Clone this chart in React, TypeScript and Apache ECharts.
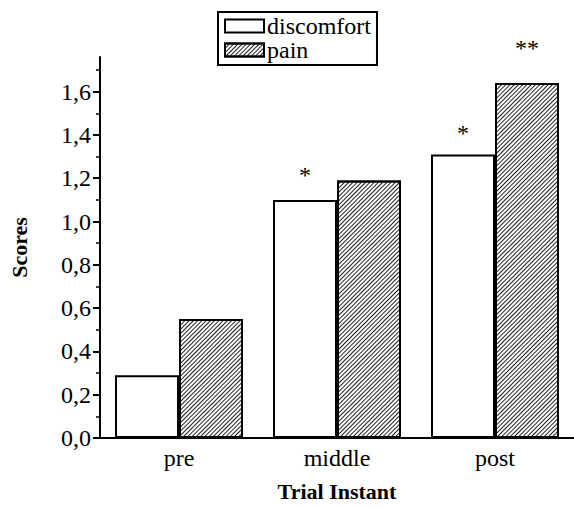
import React, { useEffect, useRef } from "react";
import * as echarts from "echarts";

const categories = ["pre", "middle", "post"];
const discomfortValues = [0.29, 1.1, 1.31];
const painValues = [0.55, 1.19, 1.64];
const discomfortMarks = ["", "*", "*"];
const painMarks = ["", "", "**"];
const markDistances = [[0, 13, 9], [0, 0, 23]];
const yTicks = [0, 0.2, 0.4, 0.6, 0.8, 1.0, 1.2, 1.4, 1.6];

const FONT = "Times New Roman";

export default function App() {
  const ref = useRef<HTMLDivElement>(null);
  useEffect(() => {
    document.body.style.margin = "0";
    if (!ref.current) return;
    const chart = echarts.init(ref.current, null, { renderer: "svg" });
    const mkData = (vals: number[], marks: string[], dist: number[]) =>
      vals.map((v, i) => ({
        value: v,
        label: {
          show: marks[i] !== "",
          position: "top",
          distance: dist[i],
          formatter: marks[i],
          fontSize: 24,
          fontFamily: FONT,
          color: "#000",
        },
      }));
    chart.setOption({
      animation: false,
      backgroundColor: "#fff",
      textStyle: { fontFamily: FONT, color: "#000" },
      grid: { left: 97, top: 57, width: 480, height: 386 },
      legend: {
        orient: "vertical",
        left: 218,
        top: 12,
        borderColor: "#000",
        borderWidth: 2,
        backgroundColor: "#fff",
        padding: [2, 6, 3, 6],
        itemGap: 0,
        itemWidth: 39,
        itemHeight: 13,
        icon: "rect",
        textStyle: { fontSize: 24, lineHeight: 22, fontFamily: FONT, color: "#000", padding: [0, 0, 0, -2] },
        data: ["discomfort", "pain"],
      },
      xAxis: [
        {
          type: "category",
          data: categories,
          axisLine: { lineStyle: { color: "#000", width: 2 } },
          axisTick: { alignWithLabel: true, length: 6, lineStyle: { color: "#000", width: 2 } },
          axisLabel: { fontSize: 24, fontFamily: FONT, color: "#000", margin: 8 },
          name: "Trial Instant",
          nameLocation: "middle",
          nameGap: 42,
          nameTextStyle: { fontSize: 22, fontWeight: "bold", fontFamily: FONT, color: "#000" },
        },
        {
          type: "category",
          data: categories,
          position: "bottom",
          axisLine: { show: false },
          axisTick: { length: 3, lineStyle: { color: "#000", width: 1 } },
          axisLabel: { show: false },
        },
      ],
      yAxis: {
        type: "value",
        min: 0,
        max: 1.76,
        interval: 0.2,
        splitLine: { show: false },
        axisLine: { show: true, lineStyle: { color: "#000", width: 2 } },
        axisTick: { show: true, length: 7, lineStyle: { color: "#000", width: 2 }, customValues: yTicks },
        minorTick: { show: true, splitNumber: 2, length: 4, lineStyle: { color: "#000", width: 1.5 } },
        axisLabel: {
          fontSize: 24,
          fontFamily: FONT,
          color: "#000",
          margin: 9,
          customValues: yTicks,
          formatter: (v: number) => v.toFixed(1).replace(".", ","),
        },
        name: "Scores",
        nameLocation: "middle",
        nameGap: 70,
        nameTextStyle: { fontSize: 22, fontWeight: "bold", fontFamily: FONT, color: "#000" },
      },
      series: [
        {
          name: "discomfort",
          type: "bar",
          barWidth: 64,
          barGap: "0%",
          itemStyle: { color: "#fff", borderColor: "#000", borderWidth: 2 },
          data: mkData(discomfortValues, discomfortMarks, markDistances[0]),
        },
        {
          name: "pain",
          type: "bar",
          barWidth: 64,
          barGap: "0%",
          itemStyle: {
            color: "#fff",
            borderColor: "#000",
            borderWidth: 2,
            decal: {
              symbol: "rect",
              symbolSize: 1,
              color: "#222",
              dashArrayX: [1, 0],
              dashArrayY: [0.9, 2],
              rotation: -Math.PI / 4,
            },
          },
          data: mkData(painValues, painMarks, markDistances[1]),
        },
      ],
    });
    return () => chart.dispose();
  }, []);
  return <div ref={ref} style={{ width: 574, height: 507 }} />;
}
